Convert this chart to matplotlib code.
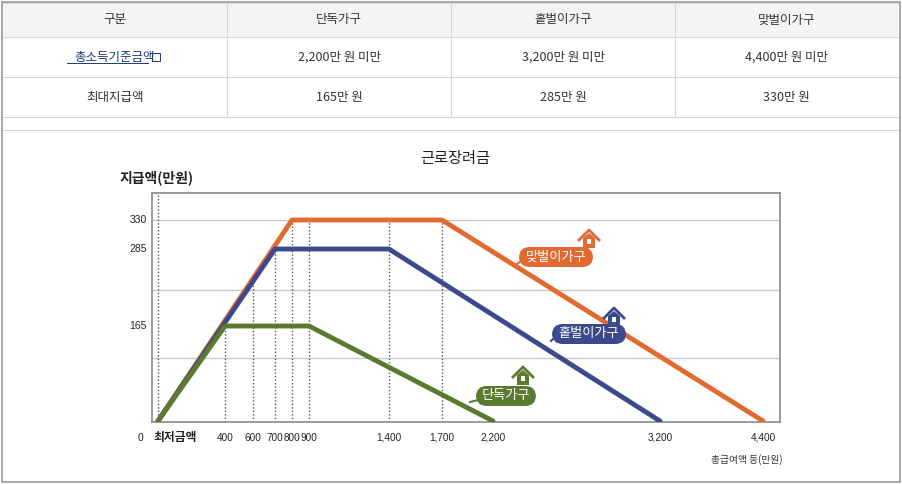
import matplotlib
matplotlib.use("Agg")
import matplotlib.pyplot as plt
import numpy as np
from matplotlib.patches import Rectangle, FancyBboxPatch, Polygon
from matplotlib.lines import Line2D

plt.rcParams['font.family'] = ['Noto Sans CJK KR', 'DejaVu Sans']

W, H = 902, 484

# table data
TABLE_HEADER = ["구분", "단독가구", "홑벌이가구", "맞벌이가구"]
TABLE_ROW1 = ["총소득기준금액", "2,200만 원 미만", "3,200만 원 미만", "4,400만 원 미만"]
TABLE_ROW2 = ["최대지급액", "165만 원", "285만 원", "330만 원"]

# chart data (만원)
SINGLE_X = [0, 400, 900, 2200]
SINGLE_Y = [0, 165, 165, 0]
ONE_X = [0, 700, 1400, 3200]
ONE_Y = [0, 285, 285, 0]
DUAL_X = [0, 800, 1700, 4400]
DUAL_Y = [0, 330, 330, 0]
X_TICKS = [400, 600, 700, 800, 900, 1400, 1700, 2200, 3200, 4400]
X_TICK_LABELS = ["400", "600", "700", "800", "900", "1,400", "1,700", "2,200", "3,200", "4,400"]
Y_TICKS = [165, 285, 330]
Y_GRID = [109, 221, 330]
DOTTED_X = [0, 400, 600, 700, 800, 900, 1400, 1700]

ORANGE = "#E2692F"
BLUE = "#3A4A8C"
GREEN = "#5B7A30"

# the original axes are drawn piecewise, not linear
AXIS_DATA = [-40, 0, 400, 600, 700, 800, 900, 1400, 1700, 2200, 3200, 4400, 4520]
AXIS_POS = [152, 158, 225, 253, 275, 292, 309, 389, 442, 493, 660, 763, 780]
YAXIS_DATA = [-2, 0, 165, 285, 330, 375]
YAXIS_POS = [0, 1, 96, 173, 202, 229]

TICK_FONT = ['Liberation Sans', 'DejaVu Sans']


def fx(px):
    return px / W


def fy(py):
    return 1 - py / H


fig = plt.figure(figsize=(W / 100, H / 100), dpi=100)

# outer frame
fig.add_artist(Rectangle((fx(2), fy(482)), fx(898), 480 / H, transform=fig.transFigure,
                         fill=False, ec="#9a9a9a", lw=1.2))

# table
cols = [3, 227, 451, 675, 898]
rows = [3, 37, 77, 117]
fig.add_artist(Rectangle((fx(3), fy(37)), fx(895), 34 / H, transform=fig.transFigure,
                         fc="#f4f4f4", ec="none"))
for r in rows:
    fig.add_artist(Line2D([fx(3), fx(898)], [fy(r), fy(r)], transform=fig.transFigure,
                          color="#d6d6d6", lw=0.8))
for c in cols[1:-1]:
    fig.add_artist(Line2D([fx(c), fx(c)], [fy(3), fy(117)], transform=fig.transFigure,
                          color="#d6d6d6", lw=0.8))
fig.add_artist(Line2D([fx(3), fx(898)], [fy(130), fy(130)], transform=fig.transFigure,
                      color="#d6d6d6", lw=0.8))
for row, yc in zip([TABLE_HEADER, TABLE_ROW1, TABLE_ROW2], [20, 57, 97]):
    for i, txt in enumerate(row):
        xc = (cols[i] + cols[i + 1]) / 2
        color = "#1a3b7a" if txt == TABLE_ROW1[0] else "#333333"
        fig.text(fx(xc), fy(yc), txt, ha="center", va="center", fontsize=9, color=color)
fig.add_artist(Line2D([fx(67), fx(148)], [fy(63), fy(63)], transform=fig.transFigure,
                      color="#1a3b7a", lw=0.7))
fig.add_artist(Rectangle((fx(152), fy(61)), 8 / W, 8 / H, transform=fig.transFigure,
                         fill=False, ec="#1a3b7a", lw=0.7))

# chart
ax = fig.add_axes([fx(152), fy(422), fx(780) - fx(152), (422 - 193) / H])
ax.set_xscale("function", functions=(lambda x: np.interp(x, AXIS_DATA, AXIS_POS),
                                     lambda p: np.interp(p, AXIS_POS, AXIS_DATA)))
ax.set_yscale("function", functions=(lambda y: np.interp(y, YAXIS_DATA, YAXIS_POS),
                                     lambda p: np.interp(p, YAXIS_POS, YAXIS_DATA)))
ax.set_xlim(-40, 4520)
ax.set_ylim(-2, 375)
for s in ax.spines.values():
    s.set_color("#8a8a8a")
    s.set_linewidth(1.2)
ax.set_xticks([])
ax.set_yticks([])
ax.minorticks_off()

for yv in Y_GRID:
    ax.axhline(yv, color="#c8c8c8", lw=1, zorder=1)


def height_at(x):
    return max(np.interp(x, SINGLE_X, SINGLE_Y), np.interp(x, ONE_X, ONE_Y),
               np.interp(x, DUAL_X, DUAL_Y))


for xv in DOTTED_X:
    top = 375 if xv == 0 else height_at(xv)
    ax.plot([xv, xv], [-2, top], ls=(0, (1, 1.5)), color="#555555", lw=1, zorder=2)

ax.plot(DUAL_X, DUAL_Y, color=ORANGE, lw=3.5, solid_capstyle="round", zorder=3)
ax.plot(ONE_X, ONE_Y, color=BLUE, lw=3.5, solid_capstyle="round", zorder=4)
ax.plot(SINGLE_X, SINGLE_Y, color=GREEN, lw=3.5, solid_capstyle="round", zorder=5)

# tick labels
for xv, lab in zip(X_TICKS, X_TICK_LABELS):
    fig.text(fx(np.interp(xv, AXIS_DATA, AXIS_POS)), fy(438), lab, ha="center", va="center",
             fontsize=7.2, color="#222222", family=TICK_FONT)
fig.text(fx(141), fy(438), "0", ha="center", va="center", fontsize=7.5, color="#222222",
         family=TICK_FONT)
fig.text(fx(153), fy(437), "최저금액", ha="left", va="center", fontsize=8.5,
         fontweight="bold", color="#222222")
for yv in Y_TICKS:
    ypx = 422 - np.interp(yv, YAXIS_DATA, YAXIS_POS)
    fig.text(fx(147), fy(ypx), str(yv), ha="right", va="center", fontsize=7.5,
             color="#222222", family=TICK_FONT)

fig.text(fx(455), fy(158), "근로장려금", ha="center", va="center", fontsize=11, color="#222222")
fig.text(fx(120), fy(178), "지급액(만원)", ha="left", va="center", fontsize=10,
         fontweight="bold", color="#222222")
fig.text(fx(783), fy(460), "총급여액 등(만원)", ha="right", va="center", fontsize=7, color="#333333")


# callouts with house icons
def callout(cx, cy, w, label, color, lx, ly, hx, hy):
    fig.add_artist(Line2D([fx(cx - w / 2 + 2), fx(lx)], [fy(cy + 4), fy(ly)],
                          transform=fig.transFigure, color=color, lw=1.5))
    fig.add_artist(FancyBboxPatch((fx(cx - w / 2), fy(cy + 10)), w / W, 20 / H,
                                  boxstyle="round,pad=0,rounding_size=0.012",
                                  mutation_aspect=W / H,
                                  transform=fig.transFigure, fc=color, ec="none"))
    fig.text(fx(cx), fy(cy), label, ha="center", va="center", fontsize=9.5,
             fontweight="medium", color="white")
    roof = [(hx - 10, hy + 2), (hx, hy - 8), (hx + 10, hy + 2)]
    fig.add_artist(Line2D([fx(p[0]) for p in roof], [fy(p[1]) for p in roof],
                          transform=fig.transFigure, color=color, lw=2))
    body = [(hx - 6, hy), (hx, hy - 5), (hx + 6, hy), (hx + 6, hy + 10), (hx - 6, hy + 10)]
    fig.add_artist(Polygon([(fx(p[0]), fy(p[1])) for p in body], closed=True,
                           transform=fig.transFigure, fc=color, ec="none"))
    fig.add_artist(Rectangle((fx(hx - 2), fy(hy + 6)), 4 / W, 5 / H,
                             transform=fig.transFigure, fc="white", ec="none"))


callout(556, 257, 74, "맞벌이가구", ORANGE, 517, 264, 589, 238)
callout(589, 334, 74, "홑벌이가구", BLUE, 551, 341, 614, 316)
callout(506, 396, 60, "단독가구", GREEN, 470, 402, 523, 375)

fig.savefig("out.png", dpi=100)
